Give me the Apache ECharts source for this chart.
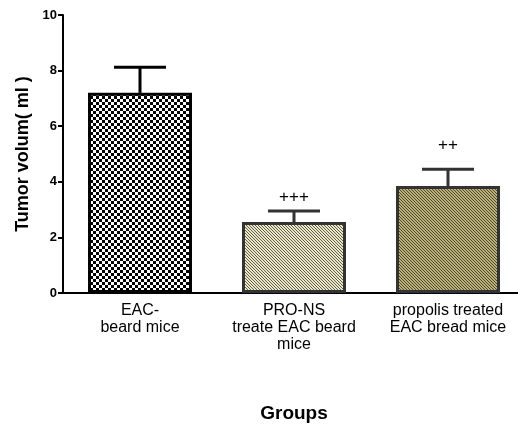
<!DOCTYPE html>
<html><head><meta charset="utf-8">
<script src="https://cdn.jsdelivr.net/npm/echarts@6/dist/echarts.min.js"></script>
<style>html,body{margin:0;padding:0;background:#fff}#c{width:518px;height:432px}</style>
</head><body><div id="c"></div>
<script>
var categories = ['EAC-\nbeard mice', 'PRO-NS\ntreate EAC beard\nmice', 'propolis treated\nEAC bread mice'];
var means = [7.2, 2.55, 3.85];
var errors = [0.92, 0.4, 0.6];
var marks = ['', '+++', '++'];
var markY = [0, 3.45, 5.32];
var yTicks = [0, 2, 4, 6, 8, 10];

function checker() {
  var c = document.createElement('canvas'); c.width = 6; c.height = 6;
  var g = c.getContext('2d');
  g.fillStyle = '#fff'; g.fillRect(0,0,6,6);
  g.fillStyle = '#000'; g.fillRect(0,0,3,3); g.fillRect(3,3,3,3);
  return c;
}
function hatch(bg, fg, n) {
  var c = document.createElement('canvas'); c.width = n; c.height = n;
  var g = c.getContext('2d');
  g.fillStyle = bg; g.fillRect(0,0,n,n);
  g.fillStyle = fg;
  for (var i = 0; i < n; i++) { g.fillRect(i, i, 1, 1); }
  return c;
}
var fills = [
  {image: checker(), repeat: 'repeat'},
  {image: hatch('#ece8c6', '#5e5e52', 3), repeat: 'repeat'},
  {image: hatch('#bdb276', '#4a4836', 3), repeat: 'repeat'}
];
var borders = ['#000', '#333', '#333'];

var chart = echarts.init(document.getElementById('c'));
chart.setOption({
  animation: false,
  textStyle: {fontFamily: 'Liberation Sans, Arial, sans-serif'},
  grid: {left: 63, top: 15, right: -7, bottom: 139, containLabel: false, outerBoundsMode: 'none'},
  xAxis: {
    type: 'category', data: categories,
    axisLine: {lineStyle: {color: '#000', width: 2}},
    axisTick: {alignWithLabel: true, length: 5, lineStyle: {color: '#000', width: 2}},
    axisLabel: {color: '#000', fontSize: 16, lineHeight: 17, margin: 9, interval: 0},
    name: 'Groups', nameLocation: 'middle', nameGap: 111,
    nameTextStyle: {color: '#000', fontSize: 19, fontWeight: 'bold'}
  },
  yAxis: {
    type: 'value', min: 0, max: 10, interval: 2,
    splitLine: {show: false},
    axisLine: {show: true, lineStyle: {color: '#000', width: 2}},
    axisTick: {show: true, length: 5, lineStyle: {color: '#000', width: 2}},
    axisLabel: {color: '#000', fontSize: 13, fontWeight: 'bold', margin: 6},
    name: 'Tumor volum( ml )', nameLocation: 'middle', nameGap: 31,
    nameTextStyle: {color: '#000', fontSize: 18, fontWeight: 'bold'}
  },
  series: [
    {
      type: 'bar', barWidth: 104, z: 2,
      data: means.map(function (v, i) {
        return {value: v, itemStyle: {color: fills[i], borderColor: borders[i], borderWidth: 3}};
      })
    },
    {
      type: 'custom', z: 3,
      data: means.map(function (v, i) { return [i, v, v + errors[i], markY[i]]; }),
      renderItem: function (params, api) {
        var i = api.value(0);
        var base = api.coord([i, api.value(1)]);
        var top = api.coord([i, api.value(2)]);
        var mk = api.coord([i, api.value(3)]);
        var col = borders[i];
        var half = 26;
        var children = [
          {type: 'line', shape: {x1: base[0], y1: base[1], x2: top[0], y2: top[1]}, style: {stroke: col, lineWidth: 3}},
          {type: 'line', shape: {x1: top[0] - half, y1: top[1], x2: top[0] + half, y2: top[1]}, style: {stroke: col, lineWidth: 3}}
        ];
        if (marks[i]) {
          children.push({type: 'text', style: {text: marks[i], x: mk[0], y: mk[1], align: 'center', verticalAlign: 'middle', fill: '#000', font: '17px Liberation Sans, Arial, sans-serif'}});
        }
        return {type: 'group', children: children};
      }
    }
  ]
});
</script></body></html>
